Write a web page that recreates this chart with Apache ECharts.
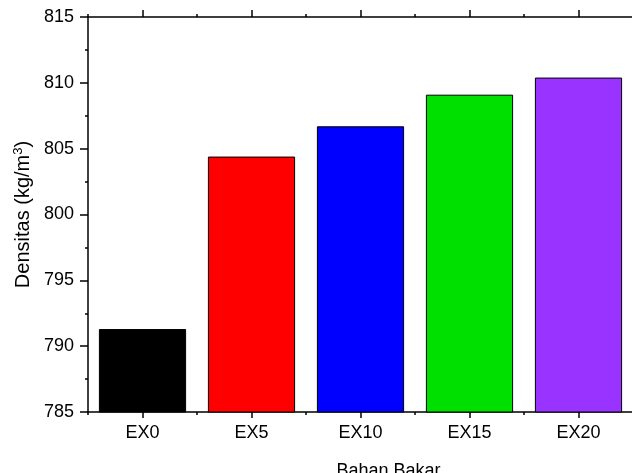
<!DOCTYPE html>
<html><head><meta charset="utf-8">
<script src="https://cdn.jsdelivr.net/npm/echarts@6/dist/echarts.min.js"></script>
<style>html,body{margin:0;padding:0;background:#fff}#c{width:632px;height:473px}</style>
</head><body><div id="c"></div>
<script>
var categories = ['EX0','EX5','EX10','EX15','EX20'];
var values = [791.3, 804.4, 806.7, 809.1, 810.4];
var barColors = ['#000000','#ff0000','#0000ff','#00e000','#9933ff'];
var yMin = 785, yMax = 815, yStep = 5;

var font = '"Liberation Sans", Arial, sans-serif';
var axisLine = {show:true, lineStyle:{color:'#000', width:1.5}};
var tickStyle = {color:'#000', width:1.5};
var gridBox = {left:88, right:-1, top:17, bottom:61, containLabel:false, outerBoundsMode:'none'};
var chart = echarts.init(document.getElementById('c'));
chart.setOption({
  animation:false,
  backgroundColor:'#fff',
  grid:[gridBox, gridBox],
  xAxis:[
    {type:'category', gridIndex:0, position:'bottom', data:categories,
     name:'Bahan Bakar', nameLocation:'middle', nameGap:50,
     nameTextStyle:{fontFamily:font, fontSize:18, color:'#000', padding:[0,0,0,56]},
     axisLine:axisLine, axisTick:{show:true, alignWithLabel:true, length:6, lineStyle:tickStyle},
     axisLabel:{fontFamily:font, fontSize:18, color:'#000', margin:12}},
    {type:'category', gridIndex:0, position:'top', data:categories,
     axisLine:axisLine, axisTick:{show:true, alignWithLabel:true, length:7, lineStyle:tickStyle},
     axisLabel:{show:false}},
    {type:'category', gridIndex:1, position:'bottom', data:categories, axisLine:{show:false},
     axisTick:{show:true, length:3, lineStyle:tickStyle}, axisLabel:{show:false}},
    {type:'category', gridIndex:1, position:'top', data:categories, axisLine:{show:false},
     axisTick:{show:true, length:3, lineStyle:tickStyle}, axisLabel:{show:false}}
  ],
  yAxis:[{type:'value', gridIndex:0, min:yMin, max:yMax, interval:yStep,
    name:'{a|Densitas (kg/m}{s|3}{a|)}', nameLocation:'middle', nameGap:53, nameRotate:90,
    nameTextStyle:{fontFamily:font, fontSize:20, color:'#000',
      rich:{a:{fontFamily:font, fontSize:20, color:'#000'}, s:{fontFamily:font, fontSize:13, color:'#000', padding:[0,0,10,0]}}},
    axisLine:axisLine, axisTick:{show:true, length:8, lineStyle:tickStyle},
    minorTick:{show:true, splitNumber:2, length:3, lineStyle:tickStyle},
    splitLine:{show:false},
    axisLabel:{fontFamily:font, fontSize:18, color:'#000', margin:14}},
    {type:'value', gridIndex:1, min:yMin, max:yMax, interval:yStep, show:false}],
  series:[{type:'bar', xAxisIndex:0, yAxisIndex:0, barWidth:'80%',
    data: values.map(function(v,i){return {value:v, itemStyle:{color:barColors[i], borderColor:'#000', borderWidth:1}};})}]
});
</script></body></html>
